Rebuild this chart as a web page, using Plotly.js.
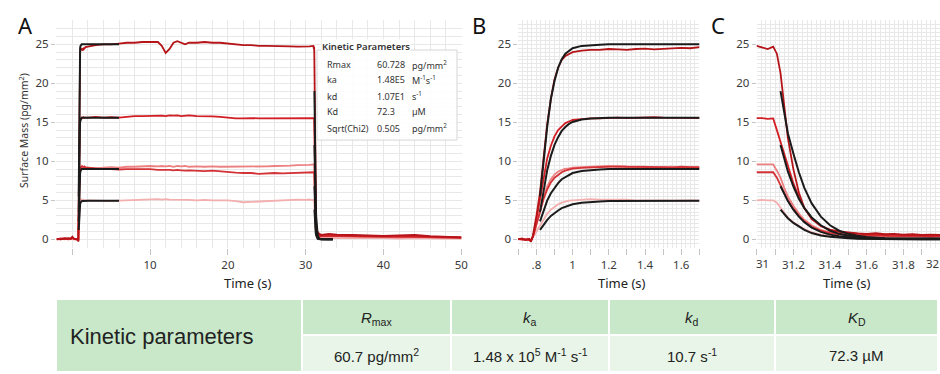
<!DOCTYPE html>
<html>
<head>
<meta charset="utf-8">
<script src="https://cdn.plot.ly/plotly-3.0.1.min.js"></script>
<style>html,body{margin:0;padding:0;background:#fff;}#chart{width:940px;height:374px;}</style>
</head>
<body>
<div id="chart"></div>
<script>
// ---------------- DATA ----------------
// time segments (s)
const tRise = [-2,-1.5,-1,-0.5,-0.2,0,0.2,0.5, 0.7,0.72,0.74,0.76,0.77,0.78,0.79,0.8,0.81,0.82, 0.84,0.86,0.88,0.9,0.92,0.94,0.96,0.98,1.0];
const tMid = [1.05,1.1,1.15,1.2,1.25,1.3,1.35,1.4,1.45,1.5,1.55,1.6,1.65,1.7,
  2,3,4,5,6,7,8,9,10,11,
  11.5,12,12.5,13,13.5,14,14.5,15,
  16,17,18,19,20,21,22,23,24,25,26,27,28,29,30,
  30.5,31.0,31.03,31.06,31.09];
const tDecay = [31.11,31.13,31.15,31.17,31.2,31.23,31.26,31.3,
  31.35,31.4,31.45,31.5,31.55,31.6,31.65,31.7,31.75,31.8,31.85,31.9,31.95,32.0,
  33,34,36,38,40,42,44,46,48,50];

// measured surface mass (pg/mm2), highest concentration
const s25Rise = [0.05,0.0,0.1,0.05,0.1,0.35,0.1,0.0, 0.0,0.1,-0.1,0.05,-0.3,0.4,1.5,3.0,4.5,6.0, 10.5,14.8,18.0,20.5,22.0,23.0,23.5,23.8,24.0];
const s25Mid = [24.2,24.3,24.3,24.4,24.35,24.3,24.4,24.45,24.35,24.4,24.5,24.55,24.5,24.65,
  24.7,24.9,25.0,25.0,25.1,25.2,25.2,25.3,25.3,25.3,
  24.8,23.9,24.4,25.2,25.4,25.2,25.0,25.2,
  25.2,25.3,25.2,25.2,25.1,25.0,24.9,24.9,24.8,24.8,24.8,24.8,24.75,24.7,24.7,
  24.75,24.8,24.6,24.4,24.7];
const s25Decay = [23.8,21.3,17.0,13.0,9.0,6.0,4.0,2.6,
  1.7,1.2,1.0,0.85,0.75,0.7,0.8,0.65,0.7,0.6,0.65,0.55,0.6,0.55,
  0.7,0.6,0.55,0.5,0.45,0.5,0.55,0.4,0.3,0.25];

const s15Rise = [0.0,0.1,0.05,0.1,0.0,0.2,0.05,0.0, 0.05,-0.05,0.0,-0.1,-0.2,0.3,1.2,2.5,3.8,5.0, 8.0,10.4,12.0,13.2,14.0,14.5,14.9,15.1,15.3];
const s15Mid = [15.4,15.5,15.5,15.55,15.6,15.55,15.6,15.6,15.65,15.6,15.6,15.55,15.6,15.55,
  15.6,15.7,15.6,15.65,15.6,15.7,15.8,15.8,15.85,15.9,
  15.85,15.8,15.9,15.85,15.9,15.8,15.85,15.9,
  15.8,15.8,15.75,15.7,15.6,15.5,15.5,15.55,15.5,15.5,15.55,15.5,15.5,15.55,15.5,
  15.5,15.5,15.55,15.45,15.5];
const s15Decay = [14.0,12.5,10.8,9.3,7.2,5.4,4.0,2.7,
  1.7,1.2,0.95,0.8,0.7,0.65,0.6,0.55,0.6,0.5,0.55,0.5,0.45,0.5,
  0.55,0.5,0.45,0.4,0.45,0.4,0.45,0.35,0.3,0.25];

const s95Rise = [0.05,0.0,0.1,0.0,0.05,0.15,0.0,0.05, 0.0,0.05,-0.05,0.0,-0.1,0.3,1.0,2.0,2.8,3.6, 5.5,6.8,7.7,8.3,8.7,8.9,9.05,9.1,9.2];
const s95Mid = [9.25,9.3,9.35,9.4,9.3,9.3,9.25,9.3,9.2,9.25,9.3,9.2,9.25,9.2,
  9.2,9.1,9.2,9.25,9.2,9.3,9.3,9.35,9.4,9.35,
  9.4,9.35,9.4,9.3,9.4,9.35,9.4,9.3,
  9.35,9.3,9.35,9.3,9.3,9.3,9.35,9.3,9.3,9.35,9.4,9.4,9.45,9.5,9.5,
  9.55,9.6,9.6,9.55,9.6];
const s95Decay = [8.8,7.9,6.6,5.5,4.3,3.3,2.5,1.8,
  1.2,0.9,0.7,0.6,0.5,0.45,0.45,0.4,0.4,0.35,0.4,0.35,0.3,0.35,
  0.4,0.35,0.3,0.35,0.3,0.25,0.3,0.25,0.2,0.2];

const s85Rise = [0.0,0.05,0.1,0.0,0.1,0.2,0.05,0.0, 0.05,0.0,-0.05,0.05,-0.15,0.3,1.0,1.9,2.7,3.5, 5.2,6.4,7.3,7.9,8.3,8.6,8.8,8.95,9.05];
const s85Mid = [9.15,9.2,9.25,9.3,9.35,9.3,9.3,9.25,9.3,9.25,9.2,9.3,9.25,9.2,
  9.2,9.1,9.0,9.0,8.95,9.0,9.0,9.05,9.0,8.9,
  8.9,8.95,8.9,8.85,8.9,8.85,8.8,8.85,
  8.8,8.75,8.8,8.7,8.6,8.55,8.5,8.5,8.4,8.45,8.5,8.45,8.5,8.5,8.55,
  8.55,8.6,8.6,8.55,8.6];
const s85Decay = [7.9,7.0,6.0,5.0,3.9,3.0,2.3,1.6,
  1.1,0.8,0.65,0.55,0.5,0.45,0.5,0.45,0.4,0.45,0.4,0.4,0.35,0.4,
  0.45,0.4,0.4,0.35,0.3,0.35,0.3,0.25,0.25,0.2];

const s5Rise = [0.0,0.05,0.0,0.05,0.0,0.1,0.0,0.05, 0.0,0.05,0.0,-0.05,-0.1,0.2,0.6,1.0,1.4,1.8, 2.6,3.3,3.8,4.2,4.5,4.7,4.85,4.95,5.0];
const s5Mid = [5.1,5.15,5.1,5.1,5.05,5.1,5.0,5.0,5.05,5.0,4.95,5.0,5.0,4.95,
  5.0,4.95,4.9,4.9,4.95,5.0,5.05,5.1,5.1,5.15,
  5.1,5.15,5.1,5.1,5.05,5.1,5.1,5.05,
  5.0,5.05,5.0,5.0,5.0,4.9,4.75,4.8,4.85,4.9,4.95,5.0,5.05,5.1,5.05,
  5.1,5.0,5.05,5.0,5.0];
const s5Decay = [4.7,4.1,3.4,2.8,2.2,1.7,1.3,0.9,
  0.6,0.45,0.35,0.3,0.25,0.25,0.2,0.2,0.2,0.15,0.2,0.15,0.15,0.15,
  0.2,0.15,0.15,0.2,0.15,0.1,0.15,0.1,0.1,0.1];

// fitted curves (black)
const tFitRise = [0.82,0.84,0.86,0.88,0.9,0.92,0.94,0.96,0.98,1.0,1.05,1.1,1.15,1.2,1.3,1.4,1.5,1.6,1.7,2,3,4,5,6];
const tFitDecay = [31.13,31.15,31.17,31.2,31.23,31.26,31.3,31.35,31.4,31.45,31.5,31.55,31.6,31.7,31.8,31.9,32.0,32.5,33,33.5];
const f25Rise = [5.5,10.0,14.5,18.0,20.3,22.0,23.1,23.8,24.2,24.5,24.8,24.9,24.95,25.0,25.0,25.0,25.0,25.0,25.0,25.0,25.0,25.0,25.0,25.0];
const f15Rise = [3.5,6.5,8.9,10.7,12.1,13.1,13.9,14.4,14.8,15.05,15.35,15.5,15.55,15.6,15.6,15.6,15.6,15.6,15.6,15.6,15.6,15.6,15.6,15.6];
const f9Rise = [2.3,3.8,5.0,5.9,6.6,7.2,7.7,8.0,8.3,8.5,8.75,8.88,8.95,9.0,9.0,9.0,9.0,9.0,9.0,9.0,9.0,9.0,9.0,9.0];
const f5Rise = [1.2,1.9,2.5,3.0,3.4,3.7,4.0,4.2,4.35,4.5,4.7,4.8,4.85,4.9,4.92,4.93,4.94,4.95,4.95,4.95,4.95,4.95,4.95,4.95];
const f25Decay = [19.0,16.2,13.6,11.0,8.6,6.6,4.6,2.9,1.8,1.1,0.7,0.45,0.3,0.12,0.06,0.03,0.02,0.0,0.0,0.0];
const f15Decay = [12.1,10.3,8.7,6.8,5.2,4.0,2.8,1.8,1.1,0.7,0.45,0.3,0.2,0.1,0.05,0.02,0.01,0.0,0.0,0.0];
const f9Decay = [6.8,5.8,4.9,3.8,2.9,2.2,1.5,0.95,0.6,0.38,0.24,0.15,0.1,0.05,0.02,0.01,0.0,0.0,0.0,0.0];
const f5Decay = [3.8,3.2,2.7,2.1,1.6,1.2,0.8,0.5,0.32,0.2,0.13,0.08,0.05,0.02,0.01,0.0,0.0,0.0,0.0,0.0];

// tick labels
const xTicksA = [0,10,20,30,40,50];
const xLabelsA = ['','10','20','30','40','50'];
const xTicksB = [0.7,0.8,0.9,1.0,1.1,1.2,1.3,1.4,1.5,1.6,1.7];
const xLabelsB = ['','.8','','1','','1.2','','1.4','','1.6',''];
const xTicksC = [31,31.1,31.2,31.3,31.4,31.5,31.6,31.7,31.8,31.9,32];
const xLabelsC = ['','','31.2','','31.4','','31.6','','31.8','',''];
const edgeLabelsC = ['31','32'];   // end labels of panel C, set inward like the reference

// texts
const panelLabels = ['A','B','C'];
const xTitle = 'Time (s)';
const yTitle = 'Surface Mass (pg/mm<sup>2</sup>)';
const boxTitle = 'Kinetic Parameters';
const paramNames = ['Rmax','ka','kd','Kd','Sqrt(Chi2)'];
const paramValues = ['60.728','1.48E5','1.07E1','72.3','0.505'];
const paramUnits = ['pg/mm<sup>2</sup>','M<sup>-1</sup>s<sup>-1</sup>','s<sup>-1</sup>','µM','pg/mm<sup>2</sup>'];
const tableTitle = 'Kinetic parameters';
const tableHeaders = ['<i>R</i><sub>max</sub>','<i>k</i><sub>a</sub>','<i>k</i><sub>d</sub>','<i>K</i><sub>D</sub>'];
const tableValues = ['60.7 pg/mm<sup>2</sup>','1.48 x 10<sup>5</sup> M<sup>-1</sup> s<sup>-1</sup>','10.7 s<sup>-1</sup>','72.3 µM'];

// ---------------- BUILD ----------------
const W = 940, H = 374;
const px = x => x / W;
const py = y => 1 - y / H;

const tAll = tRise.concat(tMid, tDecay);
const tFit = tFitRise.concat([null], tFitDecay);
const dataSeries = [
  {y: s5Rise.concat(s5Mid, s5Decay), color: '#f3aeae', w: 1.8},
  {y: s95Rise.concat(s95Mid, s95Decay), color: '#ec7f80', w: 1.8},
  {y: s85Rise.concat(s85Mid, s85Decay), color: '#d33237', w: 1.8},
  {y: s15Rise.concat(s15Mid, s15Decay), color: '#d21f25', w: 1.8},
  {y: s25Rise.concat(s25Mid, s25Decay), color: '#b51418', w: 1.8}
];
const fitSeries = [
  f5Rise.concat([null], f5Decay),
  f9Rise.concat([null], f9Decay),
  f15Rise.concat([null], f15Decay),
  f25Rise.concat([null], f25Decay)
];
const axesPairs = [['x','y'],['x2','y2'],['x3','y3']];
const traces = [];
axesPairs.forEach(([xa, ya]) => {
  dataSeries.forEach(s => traces.push({x: tAll, y: s.y, xaxis: xa, yaxis: ya, mode: 'lines',
    line: {color: s.color, width: s.w}, hoverinfo: 'skip'}));
  fitSeries.forEach(f => traces.push({x: tFit, y: f, xaxis: xa, yaxis: ya, mode: 'lines',
    line: {color: '#1b1b1b', width: 2}, hoverinfo: 'skip', connectgaps: false}));
});

const gridC = '#e8e8e8';
const tickFont = {family: 'Noto Sans', size: 11.5, color: '#3a3a3a'};
const common = {showgrid: true, gridcolor: gridC, gridwidth: 1, zeroline: false, showline: false,
  ticks: 'outside', tickcolor: '#c4c4c4', tickwidth: 1, automargin: false, fixedrange: true,
  tickfont: tickFont};
const yDom = [py(248), py(20)];
const yRange = [-1.115, 28.12];
const yCommon = Object.assign({}, common, {domain: yDom, range: yRange, tickmode: 'linear', tick0: 0, dtick: 5, ticklen: 4});

const layout = {
  width: W, height: H, margin: {l: 0, r: 0, t: 0, b: 0},
  paper_bgcolor: '#ffffff', plot_bgcolor: '#ffffff', showlegend: false,
  font: {family: 'Noto Sans', color: '#333'},
  xaxis: Object.assign({}, common, {domain: [px(56), px(462)], range: [-2.1, 50.1], anchor: 'y',
    tickmode: 'array', tickvals: xTicksA, ticktext: xLabelsA, ticklen: 6,
    minor: {tickmode: 'linear', tick0: 0, dtick: 2, showgrid: true, gridcolor: gridC, ticks: ''}}),
  yaxis: Object.assign({}, yCommon, {anchor: 'x', minor: {tickmode: 'linear', tick0: 0, dtick: 1, showgrid: true, gridcolor: gridC, ticks: ''}}),
  xaxis2: Object.assign({}, common, {domain: [px(518.3), px(699.3)], range: [0.7, 1.7], anchor: 'y2',
    tickmode: 'array', tickvals: xTicksB, ticktext: xLabelsB, ticklen: 6,
    minor: {tickmode: 'linear', tick0: 0.7, dtick: 0.025, showgrid: true, gridcolor: gridC, ticks: ''}}),
  yaxis2: Object.assign({}, yCommon, {anchor: 'x2', minor: {tickmode: 'linear', tick0: 0, dtick: 0.5, showgrid: true, gridcolor: gridC, ticks: ''}}),
  xaxis3: Object.assign({}, common, {domain: [px(756.7), 1], range: [31, 32], anchor: 'y3',
    tickmode: 'array', tickvals: xTicksC, ticktext: xLabelsC, ticklen: 6,
    minor: {tickmode: 'linear', tick0: 31, dtick: 0.025, showgrid: true, gridcolor: gridC, ticks: ''}}),
  yaxis3: Object.assign({}, yCommon, {anchor: 'x3', minor: {tickmode: 'linear', tick0: 0, dtick: 0.5, showgrid: true, gridcolor: gridC, ticks: ''}}),
  shapes: [],
  annotations: []
};

const ann = (text, x, y, opts) => Object.assign({text, x: px(x), y: py(y), xref: 'paper', yref: 'paper',
  showarrow: false, xanchor: 'center', yanchor: 'middle'}, opts || {});

// panel C end tick labels
layout.annotations.push(ann(edgeLabelsC[0], 762.5, 263.5, {font: tickFont}));
layout.annotations.push(ann(edgeLabelsC[1], 932.5, 263.5, {font: tickFont}));

// panel letters
[[25, 25], [479.5, 25], [718, 25]].forEach((p, i) =>
  layout.annotations.push(ann(panelLabels[i], p[0], p[1], {font: {family: 'Noto Sans', size: 22, color: '#111'}})));
// axis titles
[248, 622, 847].forEach(x => layout.annotations.push(ann(xTitle, x, 283, {font: {family: 'Noto Sans', size: 13, color: '#222'}})));
layout.annotations.push(ann(yTitle, 23, 131, {textangle: -90, font: {family: 'Noto Sans', size: 10.5, color: '#333'}}));

// info box in panel A
layout.shapes.push({type: 'rect', xref: 'paper', yref: 'paper', x0: px(317), x1: px(457), y0: py(140), y1: py(50),
  line: {color: '#d6d6d6', width: 1}, fillcolor: 'rgba(255,255,255,0.9)', layer: 'above'});
layout.annotations.push(ann(boxTitle, 321, 46, {xanchor: 'left', bgcolor: '#ffffff', borderpad: 0,
  font: {family: 'Noto Sans', size: 9.5, color: '#333', weight: 600}}));
const rowY = [64.5, 80, 96, 112, 128];
paramNames.forEach((n, i) => {
  layout.annotations.push(ann(n, 325, rowY[i], {xanchor: 'left', font: {family: 'Noto Sans', size: 9, color: '#333'}}));
  layout.annotations.push(ann(paramValues[i], 375, rowY[i], {xanchor: 'left', font: {family: 'Noto Sans', size: 9, color: '#333'}}));
  layout.annotations.push(ann(paramUnits[i], 410, rowY[i], {xanchor: 'left', font: {family: 'Noto Sans', size: 9, color: '#333'}}));
});

// table
const green = '#c8e8c9', light = '#e8f5e8';
layout.shapes.push({type: 'rect', xref: 'paper', yref: 'paper', x0: px(57), x1: px(301), y0: py(371), y1: py(300),
  line: {width: 0}, fillcolor: green, layer: 'below'});
const colX = [[303, 450], [452, 608], [610, 774], [776, 937]];
colX.forEach((c, i) => {
  layout.shapes.push({type: 'rect', xref: 'paper', yref: 'paper', x0: px(c[0]), x1: px(c[1]), y0: py(334), y1: py(300),
    line: {width: 0}, fillcolor: green, layer: 'below'});
  layout.shapes.push({type: 'rect', xref: 'paper', yref: 'paper', x0: px(c[0]), x1: px(c[1]), y0: py(371), y1: py(336),
    line: {width: 0}, fillcolor: light, layer: 'below'});
  const cx = (c[0] + c[1]) / 2;
  layout.annotations.push(ann(tableHeaders[i], cx, 318, {font: {family: 'Liberation Sans', size: 15, color: '#222'}}));
  layout.annotations.push(ann(tableValues[i], cx, 355, {font: {family: 'Liberation Sans', size: 15, color: '#222'}}));
});
layout.annotations.push(ann(tableTitle, 68, 336, {xanchor: 'left', font: {family: 'Liberation Sans', size: 22, color: '#222'}}));

Plotly.newPlot('chart', traces, layout, {displayModeBar: false, staticPlot: true});
</script>
</body>
</html>
